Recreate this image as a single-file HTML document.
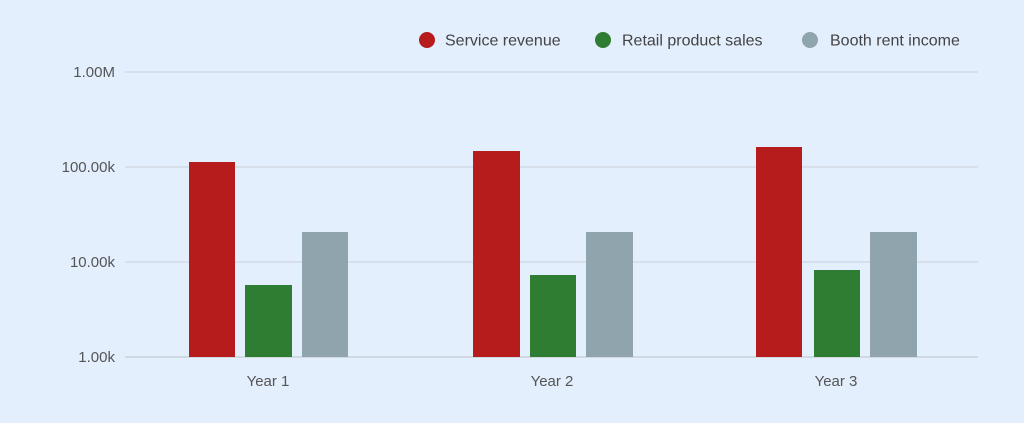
<!DOCTYPE html>
<html><head><style>
body{margin:0;background:#e3effd;}
svg{display:block;font-family:"Liberation Sans",sans-serif;}
</style></head><body>
<svg width="1024" height="423" xmlns="http://www.w3.org/2000/svg">
<rect width="1024" height="423" fill="#e3effd"/>
<g stroke="#d3dbe3" stroke-width="1.5">
<line x1="125" x2="978" y1="72" y2="72"/>
<line x1="125" x2="978" y1="167" y2="167"/>
<line x1="125" x2="978" y1="262" y2="262"/>
</g>
<line x1="125" x2="978" y1="357" y2="357" stroke="#c9d1d9" stroke-width="1.5"/>
<g font-size="15" fill="#555" text-anchor="end">
<text x="115" y="77">1.00M</text>
<text x="115" y="172">100.00k</text>
<text x="115" y="267">10.00k</text>
<text x="115" y="362">1.00k</text>
</g>
<g font-size="15" fill="#555" text-anchor="middle">
<text x="268" y="386">Year 1</text>
<text x="552" y="386">Year 2</text>
<text x="836" y="386">Year 3</text>
</g>
<g fill="#b71c1c">
<rect x="189" y="162" width="46" height="195"/>
<rect x="473" y="151" width="47" height="206"/>
<rect x="756" y="147" width="46" height="210"/>
</g>
<g fill="#2e7d32">
<rect x="245" y="285" width="47" height="72"/>
<rect x="530" y="275" width="46" height="82"/>
<rect x="814" y="270" width="46" height="87"/>
</g>
<g fill="#90a4ae">
<rect x="302" y="232" width="46" height="125"/>
<rect x="586" y="232" width="47" height="125"/>
<rect x="870" y="232" width="47" height="125"/>
</g>
<circle cx="427" cy="40" r="8" fill="#b71c1c"/>
<circle cx="603" cy="40" r="8" fill="#2e7d32"/>
<circle cx="810" cy="40" r="8" fill="#90a4ae"/>
<g font-size="16" fill="#444">
<text x="445" y="45.5">Service revenue</text>
<text x="622" y="45.5">Retail product sales</text>
<text x="830" y="45.5">Booth rent income</text>
</g>
</svg>
</body></html>
